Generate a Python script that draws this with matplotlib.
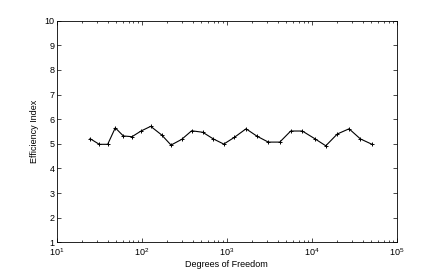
import numpy as np
import matplotlib.pyplot as plt
from matplotlib.ticker import LogLocator

# degrees of freedom (x, log scale) and efficiency index
dof = [24.7, 31.7, 39.8, 48.9, 60.8, 76.9, 98.2, 127.6, 171.8, 221.3,
       295, 387, 522, 695, 923, 1227, 1687, 2270, 3083, 4207,
       5662, 7745, 10839, 14622, 20000, 27480, 37325, 51170]
eff = [5.21, 4.98, 4.98, 5.65, 5.32, 5.29, 5.52, 5.71, 5.36, 4.95,
       5.18, 5.53, 5.47, 5.20, 4.99, 5.26, 5.61, 5.31, 5.07, 5.07,
       5.52, 5.52, 5.21, 4.92, 5.40, 5.61, 5.20, 4.98]

plt.rcParams['font.family'] = ['Liberation Sans', 'DejaVu Sans']

fig = plt.figure(figsize=(4.36, 2.73), dpi=100)
ax = fig.add_axes([0.130, 0.1125, 0.780, 0.8115])

ax.plot(dof, eff, "k-+", lw=0.8, ms=3.2, mew=0.7)

ax.set_xscale("log")
ax.set_xlim(10, 1e5)
ax.set_ylim(1, 10)
ax.set_yticks(range(1, 11))
ax.xaxis.set_minor_locator(LogLocator(base=10, subs=np.arange(2, 10)))

ax.tick_params(which="both", direction="in", top=True, right=True,
               labelsize=6.5, width=0.5, pad=1.5)
ax.tick_params(axis="x", which="both", pad=3)
ax.tick_params(which="major", length=3)
ax.tick_params(which="minor", length=1.5)
for s in ax.spines.values():
    s.set_linewidth(0.6)

ax.set_xlabel("Degrees of Freedom", fontsize=6.5, labelpad=1)
ax.set_ylabel("Efficiency Index", fontsize=6.5, labelpad=4)

fig.savefig("out.png", dpi=100)
